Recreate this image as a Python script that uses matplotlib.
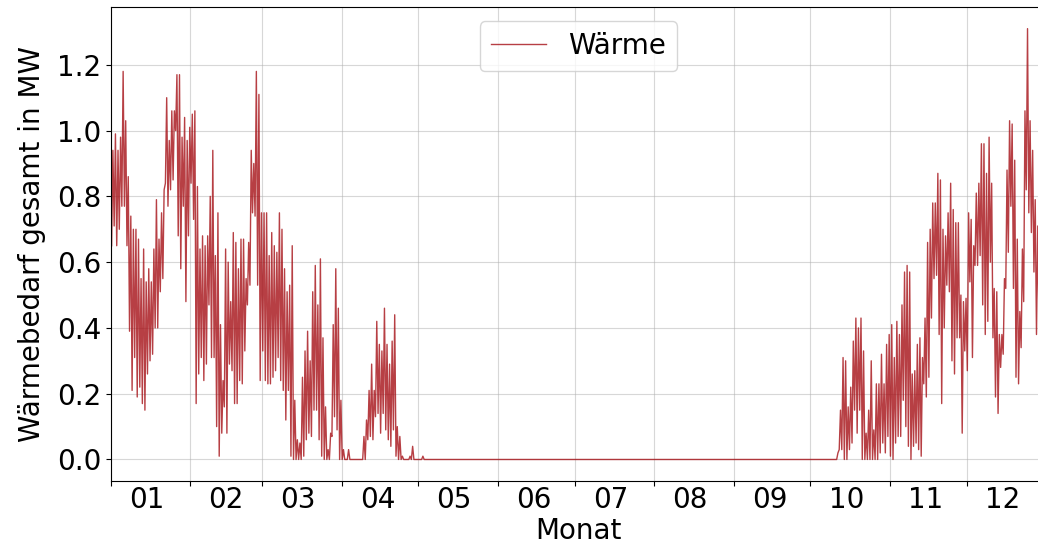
import numpy as np
import pandas as pd
import matplotlib
matplotlib.use('Agg')
import matplotlib.pyplot as plt

plt.rcParams['font.size'] = 20

# daily peak / daily low of the heat demand in MW
peak_01 = [0.94, 0.99, 0.94, 0.98, 1.18, 1.03, 0.86, 0.74, 0.70, 0.70,
           0.67, 0.55, 0.64, 0.54, 0.58, 0.54, 0.64, 0.79, 0.67, 0.75,
           0.82, 1.10, 0.97, 1.06, 1.06, 1.17, 1.17, 0.98, 1.04, 0.97, 1.01]
low_01 = [0.65, 0.71, 0.65, 0.70, 0.77, 0.77, 0.65, 0.39, 0.21, 0.31,
          0.19, 0.22, 0.17, 0.15, 0.26, 0.30, 0.32, 0.40, 0.40, 0.51,
          0.55, 0.84, 0.77, 0.82, 0.85, 1.00, 0.68, 0.58, 0.77, 0.48, 0.68]
peak_02 = [1.05, 1.06, 0.83, 0.64, 0.68, 0.65, 0.68, 0.80, 0.94, 0.62,
           0.75, 0.41, 0.24, 0.64, 0.60, 0.48, 0.69, 0.66, 0.58, 0.67,
           0.67, 0.55, 0.66, 0.94, 0.90, 1.18, 1.11, 0.75]
low_02 = [0.84, 0.73, 0.17, 0.26, 0.31, 0.24, 0.29, 0.47, 0.31, 0.31,
          0.10, 0.01, 0.08, 0.16, 0.08, 0.29, 0.27, 0.17, 0.17, 0.24,
          0.23, 0.33, 0.47, 0.53, 0.75, 0.74, 0.53, 0.24]
peak_03 = [0.75, 0.75, 0.62, 0.69, 0.65, 0.63, 0.75, 0.70, 0.58, 0.51,
           0.53, 0.65, 0.18, 0.06, 0.05, 0.25, 0.33, 0.39, 0.30, 0.51,
           0.59, 0.47, 0.61, 0.37, 0.16, 0.03, 0.08, 0.41, 0.58, 0.46, 0.18]
low_03 = [0.33, 0.24, 0.23, 0.23, 0.25, 0.27, 0.31, 0.24, 0.21, 0.12,
          0.21, 0.01, 0.00, 0.00, 0.00, 0.00, 0.01, 0.06, 0.08, 0.07,
          0.15, 0.15, 0.06, 0.01, 0.00, 0.00, 0.00, 0.07, 0.13, 0.09, 0.00]
peak_04 = [0.03, 0.00, 0.03, 0.00, 0.00, 0.00, 0.00, 0.00, 0.07, 0.12,
           0.21, 0.29, 0.21, 0.42, 0.35, 0.33, 0.46, 0.35, 0.29, 0.36,
           0.44, 0.10, 0.07, 0.01, 0.00, 0.00, 0.01, 0.04, 0.00, 0.00]
low_04 = [0.00, 0.00, 0.00, 0.00, 0.00, 0.00, 0.00, 0.00, 0.00, 0.00,
          0.06, 0.07, 0.06, 0.13, 0.14, 0.08, 0.14, 0.09, 0.06, 0.04,
          0.09, 0.01, 0.00, 0.00, 0.00, 0.00, 0.00, 0.00, 0.00, 0.00]
peak_05 = [0, 0.01, 0, 0, 0, 0, 0, 0, 0, 0, 0, 0, 0, 0, 0, 0,
           0, 0, 0, 0, 0, 0, 0, 0, 0, 0, 0, 0, 0, 0, 0]
low_05 = [0, 0, 0, 0, 0, 0, 0, 0, 0, 0, 0, 0, 0, 0, 0, 0,
          0, 0, 0, 0, 0, 0, 0, 0, 0, 0, 0, 0, 0, 0, 0]
peak_06 = [0, 0, 0, 0, 0, 0, 0, 0, 0, 0, 0, 0, 0, 0, 0,
           0, 0, 0, 0, 0, 0, 0, 0, 0, 0, 0, 0, 0, 0, 0]
low_06 = [0, 0, 0, 0, 0, 0, 0, 0, 0, 0, 0, 0, 0, 0, 0,
          0, 0, 0, 0, 0, 0, 0, 0, 0, 0, 0, 0, 0, 0, 0]
peak_07 = [0, 0, 0, 0, 0, 0, 0, 0, 0, 0, 0, 0, 0, 0, 0, 0,
           0, 0, 0, 0, 0, 0, 0, 0, 0, 0, 0, 0, 0, 0, 0]
low_07 = [0, 0, 0, 0, 0, 0, 0, 0, 0, 0, 0, 0, 0, 0, 0, 0,
          0, 0, 0, 0, 0, 0, 0, 0, 0, 0, 0, 0, 0, 0, 0]
peak_08 = [0, 0, 0, 0, 0, 0, 0, 0, 0, 0, 0, 0, 0, 0, 0, 0,
           0, 0, 0, 0, 0, 0, 0, 0, 0, 0, 0, 0, 0, 0, 0]
low_08 = [0, 0, 0, 0, 0, 0, 0, 0, 0, 0, 0, 0, 0, 0, 0, 0,
          0, 0, 0, 0, 0, 0, 0, 0, 0, 0, 0, 0, 0, 0, 0]
peak_09 = [0, 0, 0, 0, 0, 0, 0, 0, 0, 0, 0, 0, 0, 0, 0,
           0, 0, 0, 0, 0, 0, 0, 0, 0, 0, 0, 0, 0, 0, 0]
low_09 = [0, 0, 0, 0, 0, 0, 0, 0, 0, 0, 0, 0, 0, 0, 0,
          0, 0, 0, 0, 0, 0, 0, 0, 0, 0, 0, 0, 0, 0, 0]
peak_10 = [0.00, 0.00, 0.00, 0.00, 0.00, 0.00, 0.00, 0.00, 0.00, 0.00,
           0.02, 0.15, 0.31, 0.30, 0.16, 0.22, 0.36, 0.43, 0.40, 0.43,
           0.33, 0.08, 0.15, 0.30, 0.09, 0.23, 0.23, 0.32, 0.23, 0.35, 0.38]
low_10 = [0.00, 0.00, 0.00, 0.00, 0.00, 0.00, 0.00, 0.00, 0.00, 0.00,
          0.00, 0.03, 0.03, 0.00, 0.00, 0.03, 0.05, 0.15, 0.08, 0.15,
          0.00, 0.00, 0.00, 0.00, 0.00, 0.00, 0.00, 0.02, 0.05, 0.02, 0.07]
peak_11 = [0.41, 0.31, 0.42, 0.38, 0.47, 0.57, 0.59, 0.57, 0.26, 0.27,
           0.35, 0.37, 0.31, 0.43, 0.66, 0.70, 0.78, 0.78, 0.87, 0.85,
           0.70, 0.68, 0.75, 0.84, 0.76, 0.72, 0.72, 0.50, 0.48, 0.49]
low_11 = [0.01, 0.00, 0.05, 0.07, 0.07, 0.18, 0.10, 0.04, 0.00, 0.04,
          0.05, 0.03, 0.01, 0.23, 0.19, 0.25, 0.43, 0.55, 0.56, 0.38,
          0.17, 0.40, 0.53, 0.51, 0.30, 0.26, 0.37, 0.37, 0.08, 0.33]
peak_12 = [0.75, 0.73, 0.65, 0.81, 0.84, 0.96, 0.96, 0.87, 0.98, 0.84,
           0.52, 0.51, 0.38, 0.38, 0.55, 0.88, 1.03, 1.02, 0.91, 0.67,
           0.45, 0.64, 1.06, 1.31, 1.03, 0.94, 0.79, 0.71, 0.65, 0.70, 0.75]
low_12 = [0.27, 0.54, 0.31, 0.59, 0.59, 0.62, 0.47, 0.38, 0.42, 0.60,
          0.37, 0.19, 0.14, 0.28, 0.32, 0.52, 0.63, 0.77, 0.52, 0.25,
          0.23, 0.34, 0.48, 0.82, 0.75, 0.69, 0.57, 0.38, 0.40, 0.45, 0.50]

month_labels = ['01', '02', '03', '04', '05', '06',
                '07', '08', '09', '10', '11', '12']

peaks = np.concatenate([peak_01, peak_02, peak_03, peak_04, peak_05, peak_06,
                        peak_07, peak_08, peak_09, peak_10, peak_11, peak_12])
lows = np.concatenate([low_01, low_02, low_03, low_04, low_05, low_06,
                       low_07, low_08, low_09, low_10, low_11, low_12])

# low in the night, peak in the day -> two samples per day
werte = np.column_stack([lows, peaks]).ravel()
zeit = pd.date_range('2023-01-01 06:00', periods=len(werte), freq='12h')

fig = plt.figure(figsize=(10.38, 5.46), dpi=100)
ax = fig.add_axes([0.1069, 0.119, 0.9008, 0.868])

ax.plot(zeit, werte, color='#a50f15', alpha=0.8, lw=1.0, label='Wärme')

monatsanfang = pd.date_range('2023-01-01', periods=12, freq='MS')
ax.set_xticks(monatsanfang)
ax.set_xticklabels([])
ax.set_xticks(monatsanfang + pd.Timedelta(days=14), labels=month_labels, minor=True)
ax.tick_params(axis='x', which='minor', length=0)
ax.set_xlim(pd.Timestamp('2023-01-01'), pd.Timestamp('2023-12-31 23:00'))

ax.grid(True, alpha=0.5)
ax.set_xlabel('Monat', labelpad=2)
ax.set_ylabel('Wärmebedarf gesamt in MW', labelpad=8)
ax.legend(loc='upper center')

fig.savefig('out.png', dpi=100)
